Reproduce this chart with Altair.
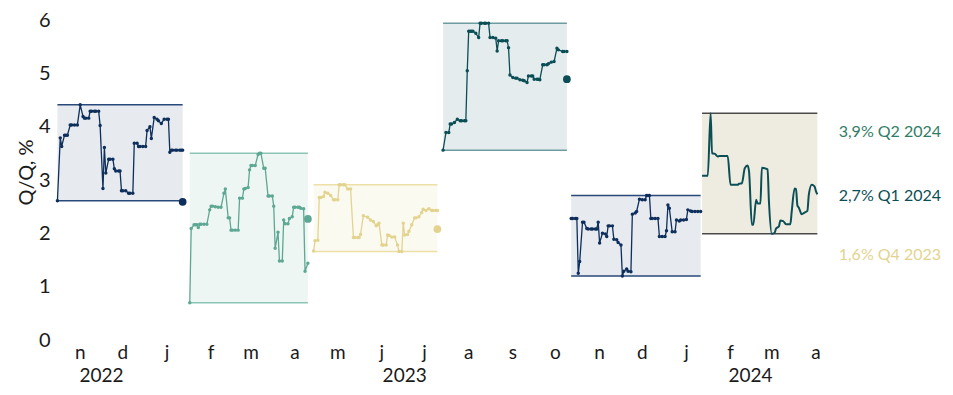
import altair as alt
import pandas as pd

# ---------------- data ----------------
SERIES = ["Q4 2022", "Q1 2023", "Q2 2023", "Q3 2023", "Q4 2023", "Q1 2024"]

Q4_2022_DATES = ["2022-10-16", "2022-10-18", "2022-10-19", "2022-10-21", "2022-10-22", "2022-10-23",
                 "2022-10-25", "2022-10-26", "2022-10-28", "2022-10-30", "2022-11-01", "2022-11-03",
                 "2022-11-04", "2022-11-05", "2022-11-07", "2022-11-08", "2022-11-09", "2022-11-11",
                 "2022-11-12", "2022-11-14", "2022-11-15", "2022-11-17", "2022-11-18", "2022-11-19",
                 "2022-11-21", "2022-11-22", "2022-11-24", "2022-11-25", "2022-11-26", "2022-11-28",
                 "2022-11-29", "2022-11-30", "2022-12-01", "2022-12-03", "2022-12-05", "2022-12-06",
                 "2022-12-08", "2022-12-09", "2022-12-11", "2022-12-12", "2022-12-13", "2022-12-15",
                 "2022-12-17", "2022-12-18", "2022-12-20", "2022-12-21", "2022-12-23", "2022-12-25",
                 "2022-12-26", "2022-12-28", "2022-12-30", "2023-01-01", "2023-01-02", "2023-01-03",
                 "2023-01-04", "2023-01-05", "2023-01-07", "2023-01-08", "2023-01-10", "2023-01-11",
                 "2023-01-12"]
Q4_2022_VALUES = [2.61, 3.79, 3.63, 3.84, 3.84, 3.84,
                  4.03, 4.03, 4.03, 4.03, 4.41, 4.19,
                  4.16, 4.16, 4.16, 4.29, 4.29, 4.29,
                  4.29, 4.29, 4.02, 2.84, 3.61, 3.13,
                  3.39, 3.39, 3.39, 3.21, 3.17, 3.17,
                  3.17, 2.80, 2.80, 2.80, 2.75, 2.75,
                  2.75, 3.69, 3.69, 3.63, 3.63, 3.63,
                  3.63, 3.93, 4.00, 3.78, 4.17, 4.14,
                  4.11, 4.06, 4.14, 4.14, 4.14, 3.52,
                  3.56, 3.56, 3.56, 3.56, 3.56, 3.56,
                  3.56]

Q1_2023_DATES = ["2023-01-17", "2023-01-18", "2023-01-20", "2023-01-21", "2023-01-22", "2023-01-23",
                 "2023-01-24", "2023-01-25", "2023-01-27", "2023-01-29", "2023-01-31", "2023-02-01",
                 "2023-02-02", "2023-02-04", "2023-02-06", "2023-02-08", "2023-02-10", "2023-02-11",
                 "2023-02-13", "2023-02-14", "2023-02-15", "2023-02-16", "2023-02-18", "2023-02-20",
                 "2023-02-21", "2023-02-23", "2023-02-24", "2023-02-25", "2023-02-27", "2023-02-28",
                 "2023-03-01", "2023-03-02", "2023-03-04", "2023-03-06", "2023-03-07", "2023-03-08",
                 "2023-03-10", "2023-03-11", "2023-03-13", "2023-03-14", "2023-03-16", "2023-03-17",
                 "2023-03-18", "2023-03-20", "2023-03-21", "2023-03-23", "2023-03-24", "2023-03-25",
                 "2023-03-27", "2023-03-28", "2023-03-30", "2023-03-31", "2023-04-01", "2023-04-03",
                 "2023-04-04", "2023-04-05", "2023-04-07", "2023-04-08", "2023-04-10"]
Q1_2023_VALUES = [0.70, 2.09, 2.16, 2.16, 2.16, 2.11,
                  2.17, 2.17, 2.17, 2.17, 2.44, 2.51,
                  2.51, 2.50, 2.49, 2.49, 2.75, 2.83,
                  2.29, 2.29, 2.06, 2.06, 2.06, 2.06,
                  2.66, 2.66, 2.83, 2.84, 2.86, 3.19,
                  3.27, 3.27, 3.27, 3.48, 3.50, 3.50,
                  3.22, 3.22, 2.70, 2.70, 2.70, 2.51,
                  1.72, 2.02, 1.48, 1.48, 2.25, 2.18,
                  2.18, 2.28, 2.31, 2.49, 2.49, 2.49,
                  2.49, 2.47, 2.46, 1.29, 1.44]

Q2_2023_DATES = ["2023-04-14", "2023-04-15", "2023-04-17", "2023-04-18", "2023-04-19", "2023-04-21",
                 "2023-04-22", "2023-04-24", "2023-04-26", "2023-04-28", "2023-04-29", "2023-05-01",
                 "2023-05-02", "2023-05-03", "2023-05-05", "2023-05-06", "2023-05-08", "2023-05-10",
                 "2023-05-12", "2023-05-13", "2023-05-15", "2023-05-16", "2023-05-17", "2023-05-19",
                 "2023-05-22", "2023-05-24", "2023-05-26", "2023-05-28", "2023-05-29", "2023-05-30",
                 "2023-06-01", "2023-06-02", "2023-06-04", "2023-06-05", "2023-06-06", "2023-06-08",
                 "2023-06-10", "2023-06-12", "2023-06-13", "2023-06-15", "2023-06-16", "2023-06-17",
                 "2023-06-19", "2023-06-20", "2023-06-22", "2023-06-24", "2023-06-25", "2023-06-27",
                 "2023-06-29", "2023-06-30", "2023-07-02", "2023-07-04", "2023-07-06", "2023-07-07",
                 "2023-07-09", "2023-07-10"]
Q2_2023_VALUES = [1.67, 1.86, 1.87, 2.67, 2.67, 2.69,
                  2.77, 2.75, 2.71, 2.63, 2.63, 2.63,
                  2.91, 2.91, 2.91, 2.91, 2.83, 2.83,
                  1.92, 1.92, 1.92, 1.92, 1.98, 2.33,
                  2.30, 2.25, 2.22, 2.14, 2.16, 2.19,
                  1.78, 1.78, 1.78, 1.97, 1.96, 1.93,
                  1.93, 1.78, 1.66, 1.66, 2.19, 1.97,
                  1.98, 2.04, 2.16, 2.29, 2.29, 2.31,
                  2.39, 2.45, 2.43, 2.46, 2.43, 2.43,
                  2.43, 2.43]

Q3_2023_DATES = ["2023-07-14", "2023-07-16", "2023-07-18", "2023-07-19", "2023-07-20", "2023-07-22",
                 "2023-07-24", "2023-07-26", "2023-07-27", "2023-07-29", "2023-07-30", "2023-07-31",
                 "2023-08-01", "2023-08-02", "2023-08-03", "2023-08-04", "2023-08-06", "2023-08-08",
                 "2023-08-09", "2023-08-10", "2023-08-12", "2023-08-13", "2023-08-15", "2023-08-16",
                 "2023-08-18", "2023-08-20", "2023-08-21", "2023-08-22", "2023-08-24", "2023-08-25",
                 "2023-08-27", "2023-08-28", "2023-08-29", "2023-08-30", "2023-09-01", "2023-09-03",
                 "2023-09-04", "2023-09-06", "2023-09-08", "2023-09-09", "2023-09-11", "2023-09-12",
                 "2023-09-14", "2023-09-15", "2023-09-16", "2023-09-18", "2023-09-19", "2023-09-20",
                 "2023-09-22", "2023-09-23", "2023-09-25", "2023-09-26", "2023-09-28", "2023-09-30",
                 "2023-10-02", "2023-10-03", "2023-10-06", "2023-10-07", "2023-10-09"]
Q3_2023_VALUES = [3.56, 3.89, 3.89, 4.05, 4.05, 4.08,
                  4.14, 4.11, 4.11, 4.11, 4.11, 5.05,
                  5.79, 5.79, 5.79, 5.79, 5.75, 5.67,
                  5.94, 5.94, 5.94, 5.94, 5.94, 5.67,
                  5.67, 5.66, 5.42, 5.61, 5.61, 5.61,
                  5.61, 5.61, 5.48, 4.97, 4.92, 4.91,
                  4.91, 4.88, 4.87, 4.86, 4.83, 4.95,
                  4.95, 4.95, 4.89, 4.89, 4.89, 4.88,
                  5.16, 5.16, 5.16, 5.18, 5.21, 5.22,
                  5.47, 5.44, 5.41, 5.41, 5.41]

Q4_2023_DATES = ["2023-10-12", "2023-10-13", "2023-10-15", "2023-10-16", "2023-10-17", "2023-10-18",
                 "2023-10-20", "2023-10-21", "2023-10-23", "2023-10-24", "2023-10-26", "2023-10-27",
                 "2023-10-29", "2023-10-30", "2023-10-31", "2023-11-01", "2023-11-03", "2023-11-05",
                 "2023-11-06", "2023-11-07", "2023-11-08", "2023-11-10", "2023-11-11", "2023-11-13",
                 "2023-11-14", "2023-11-16", "2023-11-17", "2023-11-18", "2023-11-20", "2023-11-21",
                 "2023-11-23", "2023-11-24", "2023-11-26", "2023-11-27", "2023-11-29", "2023-12-01",
                 "2023-12-03", "2023-12-04", "2023-12-05", "2023-12-06", "2023-12-07", "2023-12-08",
                 "2023-12-10", "2023-12-12", "2023-12-13", "2023-12-15", "2023-12-17", "2023-12-18",
                 "2023-12-19", "2023-12-20", "2023-12-22", "2023-12-24", "2023-12-25", "2023-12-27",
                 "2023-12-28", "2023-12-30", "2024-01-01", "2024-01-02", "2024-01-04", "2024-01-05",
                 "2024-01-07", "2024-01-09", "2024-01-11"]
Q4_2023_VALUES = [2.28, 2.28, 2.28, 2.28, 1.25, 1.47,
                  2.21, 2.21, 2.09, 2.08, 2.08, 2.08,
                  2.08, 2.08, 2.21, 1.82, 2.00, 1.99,
                  1.94, 2.14, 2.14, 2.14, 1.89, 1.88,
                  1.83, 1.78, 1.20, 1.29, 1.33, 1.29,
                  1.28, 2.36, 2.38, 2.41, 2.64, 2.63,
                  2.63, 2.71, 2.71, 2.71, 2.28, 2.28,
                  2.28, 2.28, 1.94, 1.94, 1.94, 2.05,
                  2.53, 2.47, 2.03, 2.03, 2.25, 2.23,
                  2.25, 2.25, 2.26, 2.44, 2.42, 2.41,
                  2.41, 2.41, 2.41]

Q1_2024_DATES = ["2024-01-12", "2024-01-16", "2024-01-18", "2024-01-19", "2024-01-21", "2024-01-23",
                 "2024-01-24", "2024-01-30", "2024-02-01", "2024-02-06", "2024-02-07", "2024-02-09",
                 "2024-02-11", "2024-02-13", "2024-02-14", "2024-02-16", "2024-02-17", "2024-02-19",
                 "2024-02-20", "2024-02-22", "2024-02-23", "2024-02-25", "2024-02-27", "2024-02-28",
                 "2024-03-01", "2024-03-03", "2024-03-04", "2024-03-06", "2024-03-07", "2024-03-09",
                 "2024-03-11", "2024-03-14", "2024-03-15", "2024-03-17", "2024-03-18", "2024-03-19",
                 "2024-03-20", "2024-03-22", "2024-03-24", "2024-03-26", "2024-03-27", "2024-03-29",
                 "2024-03-31", "2024-04-01", "2024-04-02"]
Q1_2024_VALUES = [3.08, 3.08, 4.25, 3.50, 3.49, 3.44,
                  3.45, 3.45, 2.91, 2.91, 2.93, 2.94,
                  3.22, 3.27, 3.16, 2.16, 2.16, 2.63,
                  2.56, 2.56, 3.23, 3.22, 3.20, 2.59,
                  1.99, 2.01, 2.09, 2.13, 2.24, 2.23,
                  2.17, 2.17, 2.41, 2.84, 2.83, 2.52,
                  2.48, 2.36, 2.39, 2.42, 2.72, 2.91,
                  2.88, 2.79, 2.73]

# outcome (first release) dots at the end of the first four windows
OUTCOME_SERIES = ["Q4 2022", "Q1 2023", "Q2 2023", "Q3 2023"]
OUTCOME_VALUES = [2.59, 2.27, 2.08, 4.89]

# right-hand annotations
NOTE_TEXTS = ["3,9% Q2 2024", "2,7% Q1 2024", "1,6% Q4 2023"]
NOTE_VALUES = [3.9, 2.7, 1.6]

# x-axis month letters and years
MONTH_TICKS = ["2022-11-01", "2022-12-01", "2023-01-01", "2023-02-01", "2023-03-01", "2023-04-01",
               "2023-05-01", "2023-06-01", "2023-07-01", "2023-08-01", "2023-09-01", "2023-10-01",
               "2023-11-01", "2023-12-01", "2024-01-01", "2024-02-01", "2024-03-01", "2024-04-01"]
MONTH_LABELS = ["n", "d", "j", "f", "m", "a", "m", "j", "j", "a", "s", "o", "n", "d", "j", "f", "m", "a"]
YEARS = ["2022", "2023", "2024"]
Y_TICKS = [0, 1, 2, 3, 4, 5, 6]

# ---------------- styles ----------------
LINE_COLORS = ["#0e2f5c", "#5ea893", "#e3d38f", "#0b4e56", "#0e2f5c", "#0b4e56"]
FILL_COLORS = ["#e7eaef", "#eef6f3", "#fbfaf0", "#e5ecee", "#e7eaef", "#eeebe0"]
EDGE_COLORS = ["#29497a", "#8cc5b5", "#ece0a8", "#6f9ca0", "#29497a", "#4a4a4a"]
NOTE_COLORS = ["#2f7d66", "#0b4e56", "#e3d38f"]
TEXT_COLOR = "#1a1a1a"
FONT = "Lato"

# ---------------- tables ----------------
all_dates = [Q4_2022_DATES, Q1_2023_DATES, Q2_2023_DATES, Q3_2023_DATES, Q4_2023_DATES, Q1_2024_DATES]
all_values = [Q4_2022_VALUES, Q1_2023_VALUES, Q2_2023_VALUES, Q3_2023_VALUES, Q4_2023_VALUES, Q1_2024_VALUES]
frames = []
for name, d, v, lc in zip(SERIES, all_dates, all_values, LINE_COLORS):
    frames.append(pd.DataFrame({"q": name, "date": d, "value": v, "lc": lc}))
df = pd.concat(frames, ignore_index=True)

box = df.groupby("q", sort=False).agg(x0=("date", "min"), x1=("date", "max"),
                                      ymin=("value", "min"), ymax=("value", "max")).reset_index()
box["fill"] = box["q"].map(dict(zip(SERIES, FILL_COLORS)))
box["edge"] = box["q"].map(dict(zip(SERIES, EDGE_COLORS)))

out = pd.DataFrame({"q": OUTCOME_SERIES, "value": OUTCOME_VALUES})
out = out.merge(box[["q", "x1"]], on="q")
out["lc"] = out["q"].map(dict(zip(SERIES, LINE_COLORS)))

notes = pd.DataFrame({"text": NOTE_TEXTS, "value": NOTE_VALUES, "c": NOTE_COLORS, "date": "2024-04-17"})

months = pd.DataFrame({"date": MONTH_TICKS, "label": MONTH_LABELS})
mt = pd.to_datetime(pd.Series(MONTH_TICKS))
years = []
for yr in YEARS:
    sel = mt[mt.dt.year == int(yr)]
    mid = sel.min() + (sel.max() - sel.min()) / 2
    years.append({"date": mid.strftime("%Y-%m-%d"), "label": yr})
years = pd.DataFrame(years)

# ---------------- chart ----------------
xscale = alt.Scale(domain=[alt.DateTime(year=2022, month=10, date=15, utc=True),
                           alt.DateTime(year=2024, month=6, date=30, utc=True)])
yscale = alt.Scale(domain=[0, 6])
yaxis = alt.Axis(values=Y_TICKS, grid=False, domain=False, ticks=False, tickSize=0,
                 labelPadding=6, title="Q/Q, %", titleX=-24, titleY=152,
                 titleBaseline="alphabetic", titleAlign="center", titleAngle=270)

rect = alt.Chart(box).mark_rect().encode(
    x=alt.X("x0:T", scale=xscale, axis=None), x2="x1:T",
    y=alt.Y("ymin:Q", scale=yscale, axis=yaxis), y2="ymax:Q",
    fill=alt.Fill("fill:N", scale=None),
)
rule_top = alt.Chart(box).mark_rule(strokeWidth=1.5).encode(
    x=alt.X("x0:T", scale=xscale, axis=None), x2="x1:T",
    y=alt.Y("ymax:Q", scale=yscale), color=alt.Color("edge:N", scale=None),
)
rule_bot = alt.Chart(box).mark_rule(strokeWidth=1.5).encode(
    x=alt.X("x0:T", scale=xscale, axis=None), x2="x1:T",
    y=alt.Y("ymin:Q", scale=yscale), color=alt.Color("edge:N", scale=None),
)
lines = alt.Chart(df[df["q"] != "Q1 2024"]).mark_line(
    strokeWidth=1.3, point=alt.OverlayMarkDef(filled=True, size=12, opacity=1)
).encode(
    x=alt.X("date:T", scale=xscale, axis=None),
    y=alt.Y("value:Q", scale=yscale),
    color=alt.Color("lc:N", scale=None),
    detail="q:N",
)
smooth = alt.Chart(df[df["q"] == "Q1 2024"]).mark_line(strokeWidth=2, interpolate="monotone").encode(
    x=alt.X("date:T", scale=xscale, axis=None),
    y=alt.Y("value:Q", scale=yscale),
    color=alt.Color("lc:N", scale=None),
)
dots = alt.Chart(out).mark_circle(size=60, opacity=1).encode(
    x=alt.X("x1:T", scale=xscale, axis=None),
    y=alt.Y("value:Q", scale=yscale),
    color=alt.Color("lc:N", scale=None),
)
note_text = alt.Chart(notes).mark_text(align="left", baseline="middle", fontSize=16, font=FONT).encode(
    x=alt.X("date:T", scale=xscale, axis=None),
    y=alt.Y("value:Q", scale=yscale),
    text="text:N",
    color=alt.Color("c:N", scale=None),
)
month_text = alt.Chart(months).mark_text(align="center", baseline="alphabetic", fontSize=19,
                                         font=FONT, color=TEXT_COLOR).encode(
    x=alt.X("date:T", scale=xscale, axis=None),
    y=alt.value(339),
    text="label:N",
)
year_text = alt.Chart(years).mark_text(align="center", baseline="alphabetic", fontSize=19,
                                       font=FONT, color=TEXT_COLOR).encode(
    x=alt.X("date:T", scale=xscale, axis=None),
    y=alt.value(362),
    text="label:N",
)

chart = alt.layer(rect, rule_top, rule_bot, lines, smooth, dots, note_text, month_text, year_text).properties(
    width=888, height=320,
    autosize=alt.AutoSizeParams(type="none"),
    padding={"left": 48, "top": 12, "right": 1, "bottom": 47},
).configure_view(stroke=None).configure_axis(
    labelFont=FONT, labelFontSize=20, labelColor=TEXT_COLOR,
    titleFont=FONT, titleFontSize=20, titleFontWeight="normal", titleColor=TEXT_COLOR,
)

chart.save("out.html", embed_options={"renderer": "svg", "actions": False})
